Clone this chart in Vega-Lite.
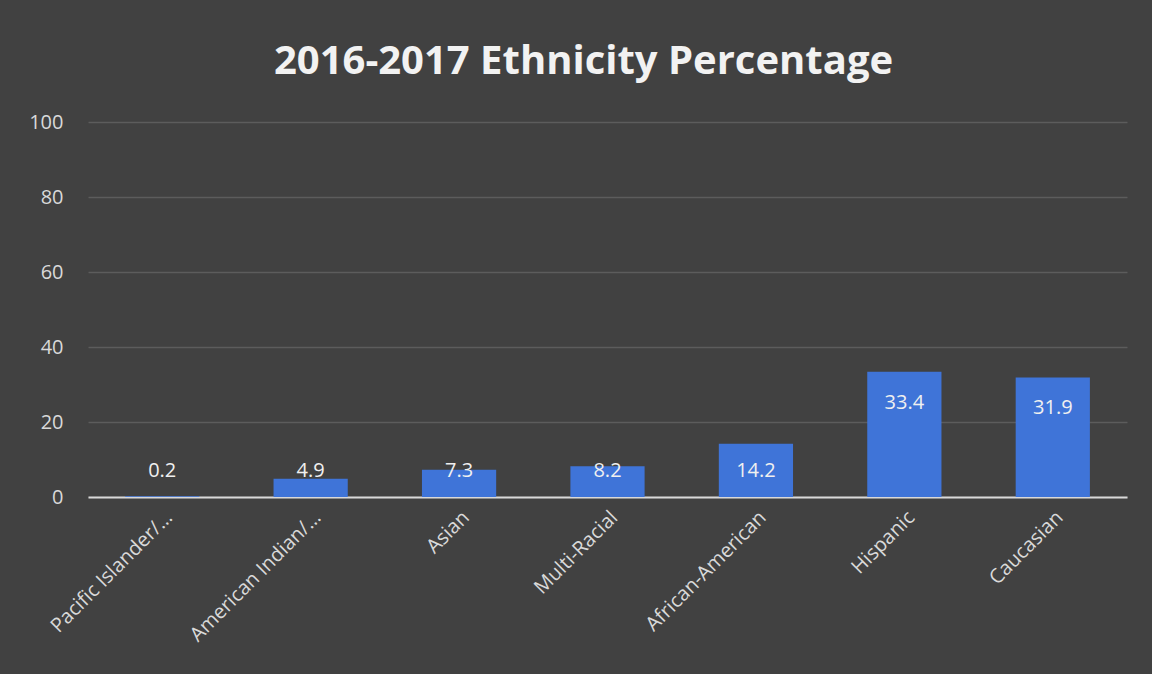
{
  "$schema": "https://vega.github.io/schema/vega-lite/v6.json",
  "width": 1039,
  "height": 375,
  "autosize": {"type": "none"},
  "padding": {"left": 88, "top": 122, "right": 25, "bottom": 177},
  "background": "#414141",
  "title": {
    "text": "2016-2017 Ethnicity Percentage",
    "font": "Open Sans",
    "fontSize": 40,
    "fontWeight": "bold",
    "color": "#f2f2f2",
    "anchor": "middle",
    "offset": 30,
    "dx": -24
  },
  "data": {
    "values": [
      {"group": "Pacific Islander/…", "value": 0.2},
      {"group": "American Indian/…", "value": 4.9},
      {"group": "Asian", "value": 7.3},
      {"group": "Multi-Racial", "value": 8.2},
      {"group": "African-American", "value": 14.2},
      {"group": "Hispanic", "value": 33.4},
      {"group": "Caucasian", "value": 31.9}
    ]
  },
  "config": {
    "view": {"stroke": null},
    "font": "Open Sans"
  },
  "encoding": {
    "x": {
      "field": "group",
      "type": "nominal",
      "sort": null,
      "scale": {"paddingInner": 0.5, "paddingOuter": 0.25},
      "axis": {
        "title": null,
        "labelAngle": -45,
        "labelColor": "#d9d9d9",
        "labelFontSize": 20,
        "labelFont": "Open Sans",
        "labelPadding": 10,
        "ticks": false,
        "domain": true,
        "domainColor": "#d9d9d9",
        "domainWidth": 2,
        "labelLimit": 300
      }
    }
  },
  "layer": [
    {
      "mark": {"type": "bar", "color": "#3f74d8"},
      "encoding": {
        "y": {
          "field": "value",
          "type": "quantitative",
          "scale": {"domain": [0, 100]},
          "axis": {
            "title": null,
            "values": [0, 20, 40, 60, 80, 100],
            "labelColor": "#d9d9d9",
            "labelFontSize": 20,
            "labelPadding": 25,
            "ticks": false,
            "domain": false,
            "gridColor": "#5c5c5c",
            "gridWidth": 1.5
          }
        }
      }
    },
    {
      "transform": [{"filter": "datum.value >= 15"}],
      "mark": {"type": "text", "color": "#f0f0f0", "fontSize": 20, "baseline": "middle", "dy": 31},
      "encoding": {
        "y": {"field": "value", "type": "quantitative"},
        "text": {"field": "value", "type": "quantitative", "format": ".1f"}
      }
    },
    {
      "transform": [{"filter": "datum.value < 15"}],
      "mark": {"type": "text", "color": "#f0f0f0", "fontSize": 20, "baseline": "middle"},
      "encoding": {
        "y": {"datum": 6.9, "type": "quantitative"},
        "text": {"field": "value", "type": "quantitative", "format": ".1f"}
      }
    }
  ]
}
